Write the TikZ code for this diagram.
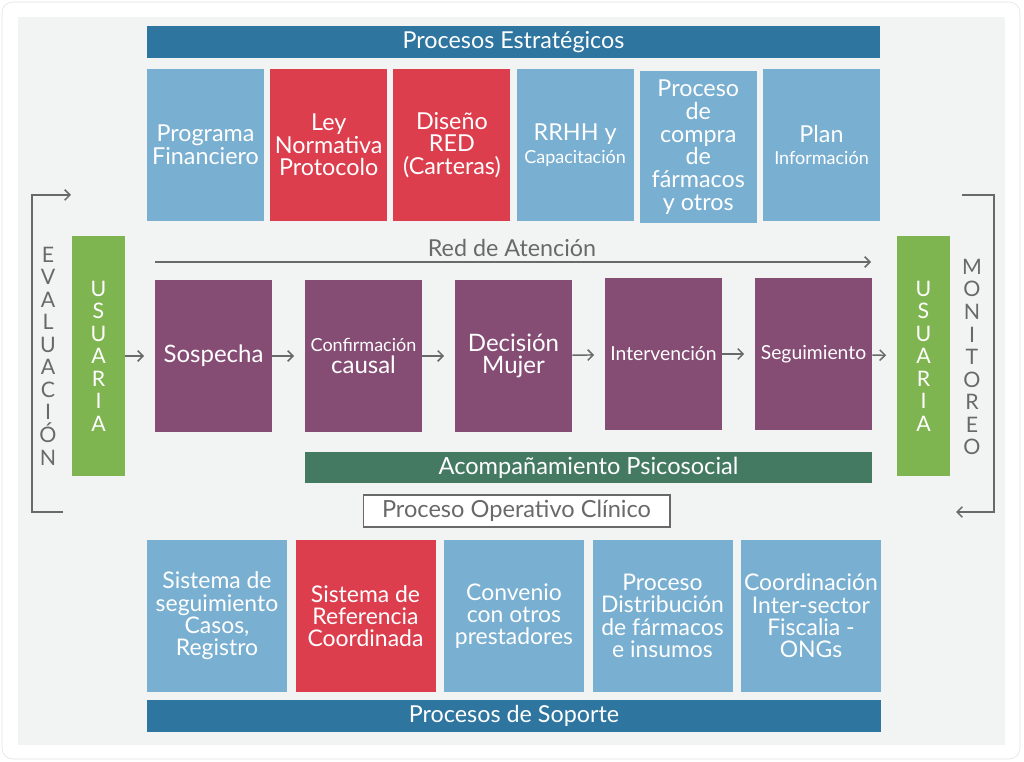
\documentclass[tikz,border=0pt]{standalone}
\usepackage{fontspec}
\setmainfont{Lato}
\usetikzlibrary{arrows.meta}
\definecolor{barblue}{RGB}{46,117,160}
\definecolor{lightblue}{RGB}{121,175,209}
\definecolor{boxred}{RGB}{220,62,78}
\definecolor{boxpurple}{RGB}{133,76,116}
\definecolor{usergreen}{RGB}{127,181,80}
\definecolor{darkgreen}{RGB}{69,122,98}
\definecolor{panelgray}{RGB}{242,244,244}
\definecolor{linegray}{RGB}{105,105,105}
\tikzset{
  box/.style={minimum width=87.75pt, minimum height=114pt, inner sep=0pt,
    text=white, align=center, font=\fontsize{17.5}{17}\selectfont},
  stratbox/.style={box, fill=lightblue},
  keybox/.style={box, fill=boxred},
  stepbox/.style={box, fill=boxpurple, font=\fontsize{18}{17}\selectfont},
  supbox/.style={box, minimum width=105pt, fill=lightblue, font=\fontsize{17.2}{16.7}\selectfont},
  bar/.style={minimum width=550pt, minimum height=24pt, inner sep=0pt,
    fill=barblue, text=white, font=\fontsize{17.5}{17}\selectfont},
  userbox/.style={minimum width=39.75pt, minimum height=180pt, inner sep=0pt,
    fill=usergreen, text=white, align=center, font=\fontsize{16}{16.9}\selectfont},
  vlabel/.style={text=linegray, align=center, inner sep=0pt, font=\fontsize{16}{16.9}\selectfont},
  flow/.style={draw=linegray, line width=1.1pt, -{Straight Barb[length=4pt,width=8pt]}},
  small/.style={font=\fontsize{13.5}{17}\selectfont}
}
\newcommand{\smalltxt}[1]{{\fontsize{13.5}{17}\selectfont #1}}
\begin{document}
\begin{tikzpicture}[x=0.75pt, y=-0.75pt]
  \useasboundingbox (0,0) rectangle (1024,762);
  \draw[draw=black!12, fill=white, rounded corners=8pt] (2,2) rectangle (1020,759);
  \fill[panelgray] (18,17) rectangle (1005,745);
  % strategic processes
  \node[bar] (est) at (513.5,42) {Procesos Estratégicos};
  \node[stratbox] (s1) at (205.5,145) {Programa\\Financiero};
  \node[keybox] (s2) at (328.7,145) {Ley\\Normativa\\Protocolo};
  \node[keybox] (s3) at (451.9,145) {Diseño\\RED\\(Carteras)};
  \node[stratbox] (s4) at (575.1,145) {RRHH y\\\smalltxt{Capacitación}};
  \node[stratbox] (s5) at (698.3,147) {Proceso\\de\\compra\\de\\fármacos\\y otros};
  \node[stratbox] (s6) at (821.5,145) {Plan\\\smalltxt{Información}};
  % clinical process
  \node[userbox] (uL) at (98.5,356) {U\\S\\U\\A\\R\\I\\A};
  \node[userbox] (uR) at (923.5,356) {U\\S\\U\\A\\R\\I\\A};
  \node[stepbox] (p1) at (213.5,356) {Sospecha};
  \node[stepbox] (p2) at (363.5,356) {\smalltxt{Confirmación}\\causal};
  \node[stepbox] (p3) at (513.5,356) {Decisión\\Mujer};
  \node[stepbox, font=\fontsize{14.5}{17}\selectfont] (p4) at (663.5,354) {Intervención};
  \node[stepbox, font=\fontsize{14.5}{17}\selectfont] (p5) at (813.5,354) {Seguimiento};
  \node[bar, fill=darkgreen, minimum width=425.25pt, minimum height=23.25pt,
    font=\fontsize{17.7}{17}\selectfont] (acom) at (588.5,467.5) {Acompañamiento Psicosocial};
  \node[draw=linegray, line width=1pt, fill=white, minimum width=230pt, minimum height=24pt,
    inner sep=0pt, text=linegray, font=\fontsize{17.7}{17}\selectfont] (poc) at (516.5,511) {Proceso Operativo Clínico};
  \node[text=linegray, font=\fontsize{17.5}{17}\selectfont] (red) at (512,248) {Red de Atención};
  \coordinate (r1) at (155,262);
  \coordinate (r2) at (871,262);
  \draw[flow] (r1) -- (r2);
  \begin{scope}[flow, shorten >=8pt]
    \draw (uL) -- (p1);
    \draw (p1) -- (p2);
    \draw (p2) -- (p3);
    \draw (p3) -- (p4);
    \draw (p4) -- (p5);
    \draw (p5) -- (uR);
  \end{scope}
  % evaluation and monitoring
  \node[vlabel] (eva) at (48,356) {E\\V\\A\\L\\U\\A\\C\\I\\Ó\\N};
  \node[vlabel] (mon) at (972,357) {M\\O\\N\\I\\T\\O\\R\\E\\O};
  \coordinate (e1) at (63,512);
  \coordinate (e2) at (71,195);
  \coordinate (m1) at (962,195);
  \coordinate (m2) at (956,512);
  \draw[flow] (e1) -- (32,512) -- (32,195) -- (e2);
  \draw[flow] (m1) -- (994,195) -- (994,512) -- (m2);
  % support processes
  \node[supbox] (b1) at (217,616) {Sistema de\\seguimiento\\Casos,\\Registro};
  \node[supbox, fill=boxred] (b2) at (365.5,616) {Sistema de\\Referencia\\Coordinada};
  \node[supbox] (b3) at (514,616) {Convenio\\con otros\\prestadores};
  \node[supbox] (b4) at (662.5,616) {Proceso\\Distribución\\de fármacos\\e insumos};
  \node[supbox] (b5) at (811,616) {Coordinación\\Inter-sector\\Fiscalia -\\ONGs};
  \node[bar, minimum width=550.5pt] (sop) at (514,716) {Procesos de Soporte};
\end{tikzpicture}
\end{document}
